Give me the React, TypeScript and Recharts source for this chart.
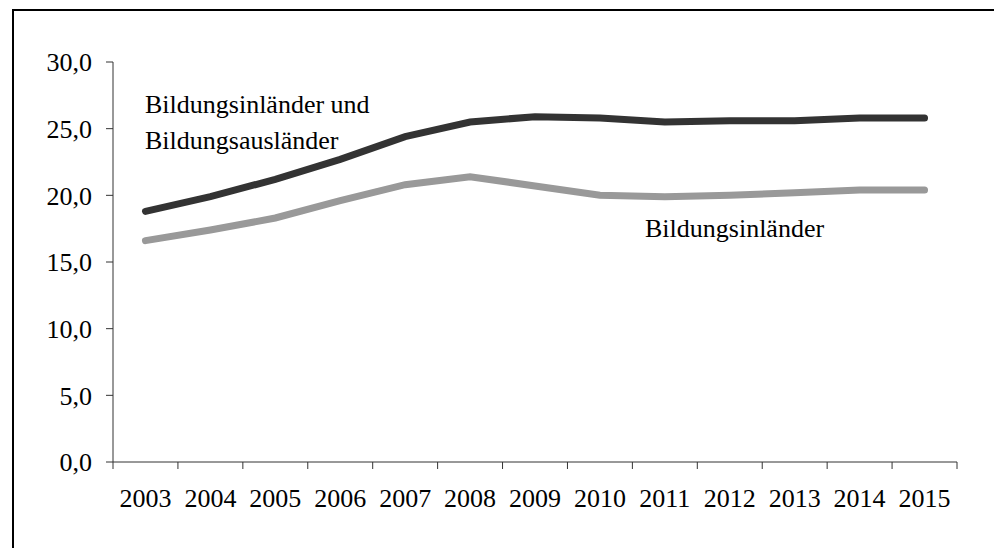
import { LineChart, Line, XAxis, YAxis } from "recharts"

const years = ["2003", "2004", "2005", "2006", "2007", "2008", "2009", "2010", "2011", "2012", "2013", "2014", "2015"]
// Bildungsinländer und Bildungsausländer
const beide = [18.8, 19.9, 21.2, 22.7, 24.4, 25.5, 25.9, 25.8, 25.5, 25.6, 25.6, 25.8, 25.8]
// Bildungsinländer
const inlaender = [16.6, 17.4, 18.3, 19.6, 20.8, 21.4, 20.7, 20.0, 19.9, 20.0, 20.2, 20.4, 20.4]
const yTicks = [0, 5, 10, 15, 20, 25, 30]

const data = years.map((y, i) => ({ pos: i + 0.5, year: y, beide: beide[i], inlaender: inlaender[i] }))
const markTicks = years.map((_, i) => i).concat(years.length)
const labelTicks = years.map((_, i) => i + 0.5)

const font = "'Liberation Serif', 'Times New Roman', serif"

export default function App() {
  return (
    <div style={{ position: "absolute", left: 0, top: 0, width: 994, height: 548, background: "#fff", overflow: "hidden", fontFamily: font }}>
      <div style={{ position: "absolute", left: 12, top: 9, width: 1000, height: 560, borderTop: "2px solid #000", borderLeft: "2px solid #000" }} />
      <LineChart width={994} height={548} data={data} margin={{ top: 62, right: 37, bottom: 36, left: 13 }}>
        <XAxis
          xAxisId="b_labels"
          type="number"
          dataKey="pos"
          domain={[0, years.length]}
          ticks={labelTicks}
          tickFormatter={(v: number) => years[Math.floor(v)]}
          axisLine={false}
          tickLine={false}
          tickSize={0}
          tickMargin={26}
          height={49}
          interval={0}
          tick={{ fill: "#000", fontSize: 26, fontFamily: font }}
        />
        <XAxis
          xAxisId="a_marks"
          type="number"
          dataKey="pos"
          domain={[0, years.length]}
          ticks={markTicks}
          tickFormatter={() => ""}
          tickSize={7}
          height={1}
          stroke="#333"
          interval={0}
        />
        <YAxis
          domain={[0, 30]}
          ticks={yTicks}
          tickFormatter={(v: number) => v.toFixed(1).replace(".", ",")}
          width={100}
          tickSize={7}
          tickMargin={14}
          stroke="#333"
          tick={{ fill: "#000", fontSize: 26, fontFamily: font }}
        />
        <Line xAxisId="b_labels" dataKey="inlaender" stroke="#999999" strokeWidth={7} strokeLinecap="round" dot={false} activeDot={false} isAnimationActive={false} type="linear" />
        <Line xAxisId="b_labels" dataKey="beide" stroke="#333333" strokeWidth={7} strokeLinecap="round" dot={false} activeDot={false} isAnimationActive={false} type="linear" />
      </LineChart>
      <svg width={994} height={548} style={{ position: "absolute", left: 0, top: 0, pointerEvents: "none" }}>
        <text x={145} y={113} fontSize={26} fontFamily={font} fill="#000">Bildungsinländer und</text>
        <text x={145} y={149} fontSize={26} fontFamily={font} fill="#000">Bildungsausländer</text>
        <text x={645} y={237} fontSize={26} fontFamily={font} fill="#000">Bildungsinländer</text>
      </svg>
    </div>
  )
}
